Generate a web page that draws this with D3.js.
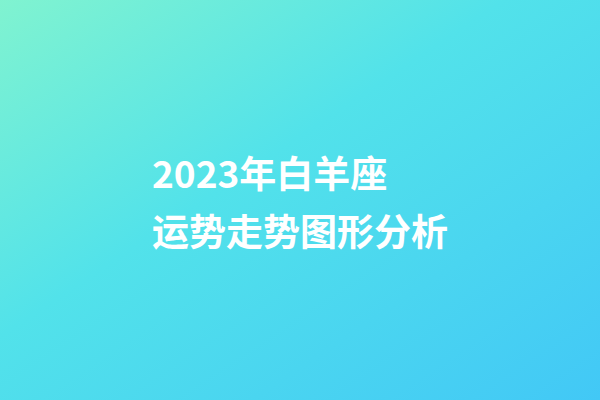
<!DOCTYPE html>
<html>
<head>
<meta charset="utf-8">
<script src="https://d3js.org/d3.v7.min.js"></script>
<style>
  body { margin: 0; overflow: hidden; }
  #graph-container { width: 600px; height: 400px; }
  .title { font-family: "Noto Sans CJK SC", "Noto Sans", sans-serif; font-weight: 700; fill: #fff; }
</style>
</head>
<body>
<div id="graph-container"></div>
<script>
  // title lines and background gradient stops
  const titleLines = ["2023年白羊座", "运势走势图形分析"];
  const gradientOffsets = [0, 0.42, 1];
  const gradientColors = ["#80f3d0", "#52e2ea", "#42c8f6"];

  const width = 600, height = 400;
  const svg = d3.select("#graph-container").append("svg")
    .attr("width", width).attr("height", height);

  const grad = svg.append("defs").append("linearGradient")
    .attr("id", "bg")
    .attr("x1", 0).attr("y1", 0).attr("x2", 1).attr("y2", 1);
  grad.selectAll("stop")
    .data(gradientOffsets)
    .enter().append("stop")
    .attr("offset", d => d)
    .attr("stop-color", (d, i) => gradientColors[i]);

  svg.append("rect")
    .attr("width", width).attr("height", height)
    .attr("fill", "url(#bg)");

  // line positions
  const y = d3.scalePoint().domain(d3.range(titleLines.length)).range([188, 246]);

  svg.selectAll(".title")
    .data(titleLines)
    .enter().append("text")
    .attr("class", "title")
    .attr("x", 152)
    .attr("y", (d, i) => y(i))
    .attr("font-size", 37)
    .text(d => d);
</script>
</body>
</html>
